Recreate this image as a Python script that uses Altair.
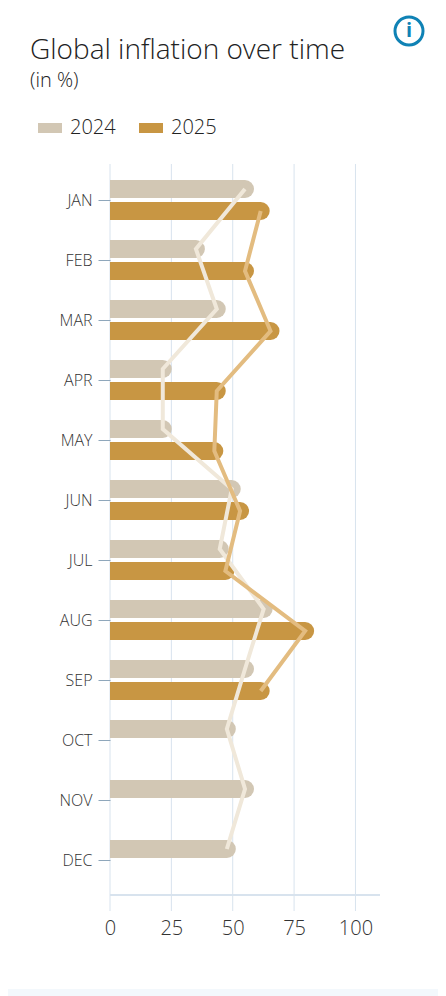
import altair as alt
import pandas as pd

months = ["JAN","FEB","MAR","APR","MAY","JUN","JUL","AUG","SEP","OCT","NOV","DEC"]
v2024 = [55, 35, 43.5, 21.5, 21.5, 49.6, 44.7, 62.6, 55, 47.6, 55, 47.6]
v2025 = [61.4, 55, 65.4, 43.5, 42.5, 53, 47, 79.5, 61.4]
x_ticks = [0, 25, 50, 75, 100]
years = ["2024", "2025"]
bar_colors = ["#d2c7b4", "#c89643"]
line_colors = ["#f0e8da", "#e3bc80"]
FONT = "Open Sans"
GRID = "#d8e3ee"
PANEL = "#f3f8fc"
TEXT = "#333333"

d24 = pd.DataFrame({"month": months, "value": v2024, "year": "2024"})
d25 = pd.DataFrame({"month": months[:len(v2025)], "value": v2025, "year": "2025"})
grid = pd.DataFrame({"tick": x_ticks})

xs = alt.Scale(domain=[0, 110], range=[0, 270])
ys = alt.Scale(domain=months, range=[6, 726], paddingInner=0, paddingOuter=0)
cs = alt.Scale(domain=years, range=bar_colors)

base_x = alt.X("value:Q", scale=xs, title=None)
base_y = alt.Y("month:N", scale=ys, sort=months, title=None)

one = pd.DataFrame({"a": [0]})
strip = alt.Chart(one).mark_rect(color=PANEL).encode(
    x=alt.value(-102), x2=alt.value(328), y=alt.value(825), y2=alt.value(832))

grid_rules = alt.Chart(grid).mark_rule(color=GRID, strokeWidth=1).encode(
    x=alt.X("tick:Q", scale=xs, title=None, axis=alt.Axis(
        values=x_ticks, grid=False, domain=False, ticks=False, labelFont=FONT,
        labelFontWeight=300, labelFontSize=20, labelColor=TEXT,
        labelPadding=7, zindex=1, labelFlush=False)),
)
axis_line = alt.Chart(one).mark_rule(color=GRID, strokeWidth=2).encode(
    x=alt.value(0), x2=alt.value(270), y=alt.value(731))


def bars(df, offset):
    return alt.Chart(df).mark_rule(strokeWidth=18, strokeCap="round", clip=True, yOffset=offset).encode(
        x=base_x,
        x2=alt.datum(0),
        y=alt.Y("month:N", scale=ys, sort=months, title=None, axis=alt.Axis(
            domain=False, grid=False, tickSize=12, tickColor="#8fa7bb", tickWidth=1,
            labelFont=FONT, labelFontWeight=300, labelFontSize=16, labelColor=TEXT,
            labelPadding=6, labelOffset=1, zindex=1)),
        color=alt.Color("year:N", scale=cs, title=None, legend=alt.Legend(
            orient="none", legendX=-77, legendY=-53, direction="horizontal",
            symbolType="stroke", symbolSize=576, symbolStrokeWidth=10,
            labelFont=FONT, labelFontWeight=300, labelFontSize=20, labelColor="#222222",
            columnPadding=3, labelOffset=3, symbolOpacity=1)),
    )


def line(df, color, offset):
    return alt.Chart(df).mark_line(color=color, strokeWidth=4, yOffset=offset, clip=False).encode(
        x=base_x, y=base_y, order=alt.Order("idx:Q"))


d24["idx"] = range(len(d24))
d25["idx"] = range(len(d25))

icon = alt.Chart(one).mark_point(shape="circle", size=784, filled=False, stroke="#0f82b5", strokeWidth=3, opacity=1).encode(
    x=alt.value(299), y=alt.value(-133))
icon_i = alt.Chart(pd.DataFrame({"t": ["i"]})).mark_text(
    font=FONT, fontWeight=700, fontSize=20, color="#0f82b5", align="center", baseline="middle").encode(
    x=alt.value(299), y=alt.value(-133), text="t:N")

chart = alt.layer(
    strip, grid_rules, axis_line,
    bars(d24, -11), bars(d25, 11),
    line(d24, line_colors[0], -11), line(d25, line_colors[1], 11),
    icon, icon_i,
).resolve_scale(x="shared", y="shared", color="shared").properties(
    width=270, height=747,
    title=alt.TitleParams(
        text="Global inflation over time", subtitle="(in %)",
        anchor="start", frame="group", dx=-80, dy=80, offset=0,
        font=FONT, fontWeight=300, fontSize=28, color="#222222",
        subtitleFont=FONT, subtitleFontWeight=300, subtitleFontSize=20,
        subtitleColor="#222222", subtitlePadding=6),
    padding={"left": 102, "top": 156, "right": 58, "bottom": 85},
    autosize=alt.AutoSizeParams(type="none"),
    background="transparent",
).configure_view(stroke=None)

chart.save("out.html", embed_options={"renderer": "svg", "actions": False})
